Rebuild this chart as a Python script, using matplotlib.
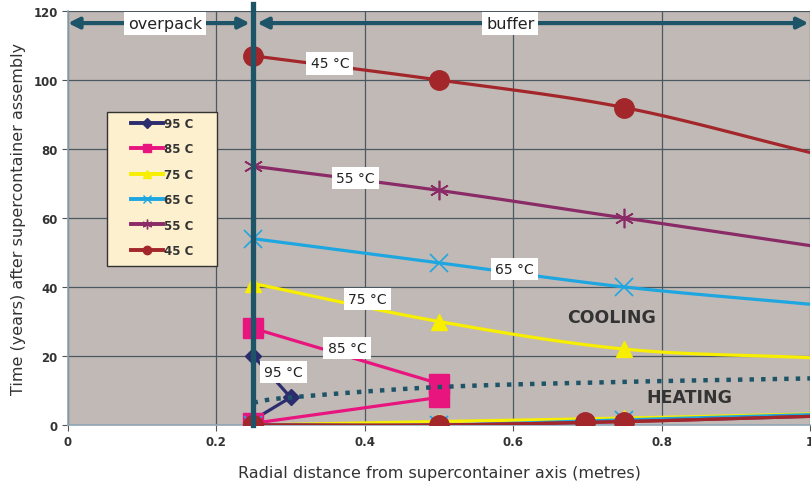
import numpy as np
import matplotlib.pyplot as plt
from matplotlib.patches import Rectangle

# data (x in metres, y in years)
x_cool = [0.25, 0.5, 0.75, 1.0]
t45_cool = [107, 100, 92, 79]
t55_cool = [75, 68, 60, 52]
t65_cool = [54, 47, 40, 35]
t75_cool = [41, 30, 22, 19.5]

x_heat = [0.25, 0.5, 0.75, 1.0]
t45_heat = [0, 0, 1, 2.5]
t55_heat = [0, 0, 1, 2.5]
t65_heat = [0, 0, 1.5, 3]
t75_heat = [0, 1, 2, 3.2]

x85 = [0.25, 0.5, 0.5, 0.25]
t85 = [0.5, 8, 12, 28]
x95 = [0.25, 0.3, 0.25]
t95 = [1.5, 8, 20]

x_extra45 = [0.697]
t_extra45 = [1]

x_bound = [0.25, 0.3, 0.5, 0.75, 1.0]
t_bound = [6.5, 8, 11, 12.5, 13.5]

colors = {'95': '#2b2d6e', '85': '#e8157f', '75': '#f7ee00',
          '65': '#1ea6e0', '55': '#8a2a66', '45': '#a3262a'}
teal = '#1d5468'


def smooth(x, y, n=30):
    # Catmull-Rom rendering of an Excel "smoothed line"
    x = np.asarray(x, float)
    y = np.asarray(y, float)
    px = np.r_[2 * x[0] - x[1], x, 2 * x[-1] - x[-2]]
    py = np.r_[2 * y[0] - y[1], y, 2 * y[-1] - y[-2]]
    xs, ys = [], []
    for i in range(1, len(px) - 2):
        t = np.linspace(0, 1, n)
        for p, out in ((px, xs), (py, ys)):
            p0, p1, p2, p3 = p[i - 1:i + 3]
            out.extend(0.5 * ((2 * p1) + (-p0 + p2) * t +
                              (2 * p0 - 5 * p1 + 4 * p2 - p3) * t ** 2 +
                              (-p0 + 3 * p1 - 3 * p2 + p3) * t ** 3))
    return xs, ys


fig = plt.figure(figsize=(8.12, 4.85), dpi=100)
ax = fig.add_axes([68 / 812, 1 - 426 / 485, 742 / 812, 414 / 485])
ax.set_facecolor('#c1b9b5')
ax.set_xlim(0, 1)
ax.set_ylim(0, 120)
ax.set_xticks([0, 0.2, 0.4, 0.6, 0.8, 1])
ax.set_xticklabels(['0', '0.2', '0.4', '0.6', '0.8', '1'])
ax.set_yticks(range(0, 121, 20))
ax.grid(True, color='#4a5860', lw=0.9)
ax.set_axisbelow(True)
for s in ['top', 'right']:
    ax.spines[s].set_visible(False)
for s in ['left', 'bottom']:
    ax.spines[s].set_color('#8fa6b4')
    ax.spines[s].set_linewidth(1.2)
ax.tick_params(length=4, color='#555', labelsize=8.5, labelcolor='#333')
for lab in ax.get_xticklabels() + ax.get_yticklabels():
    lab.set_fontweight('bold')
ax.set_xlabel('Radial distance from supercontainer axis (metres)',
              fontsize=11.5, color='#333', labelpad=12)
ax.set_ylabel('Time (years) after supercontainer assembly',
              fontsize=11.5, color='#333', labelpad=5)

lw = 2.3
# 95 C
ax.plot(x95, t95, color=colors['95'], lw=lw, marker='D', ms=8, zorder=3)
# 85 C
ax.plot(x85, t85, color=colors['85'], lw=lw, marker='s', ms=14, zorder=3)
# 75 C
for xs_, ys_ in ((x_cool, t75_cool), (x_heat, t75_heat)):
    sx, sy = smooth(xs_, ys_)
    ax.plot(sx, sy, color=colors['75'], lw=lw, zorder=3)
    ax.plot(xs_[:3], ys_[:3], ls='none', marker='^', ms=12, color=colors['75'], zorder=3)
# 65 C
for xs_, ys_ in ((x_cool, t65_cool), (x_heat, t65_heat)):
    sx, sy = smooth(xs_, ys_)
    ax.plot(sx, sy, color=colors['65'], lw=lw, zorder=3)
    ax.plot(xs_[:3], ys_[:3], ls='none', marker='x', ms=13, mew=1.2,
            color=colors['65'], zorder=3)
# 55 C
for xs_, ys_ in ((x_cool, t55_cool), (x_heat, t55_heat)):
    sx, sy = smooth(xs_, ys_)
    ax.plot(sx, sy, color=colors['55'], lw=lw, zorder=3)
    ax.plot(xs_[:3], ys_[:3], ls='none', marker=(6, 2, 0), ms=14, mew=1.2,
            color=colors['55'], zorder=3)
# 45 C
for xs_, ys_ in ((x_cool, t45_cool), (x_heat, t45_heat)):
    sx, sy = smooth(xs_, ys_)
    ax.plot(sx, sy, color=colors['45'], lw=lw, zorder=3)
    ax.plot(xs_[:3], ys_[:3], ls='none', marker='o', ms=14, color=colors['45'], zorder=3)
ax.plot(x_extra45, t_extra45, ls='none', marker='o', ms=14, color=colors['45'], zorder=3)

# heating / cooling boundary
sx, sy = smooth(x_bound, t_bound)
ax.plot(sx, sy, color=teal, lw=3.2, ls=(0, (1, 1.6)), zorder=4)

# overpack / buffer boundary and extents
ax.plot([0.25, 0.25], [0, 122], color=teal, lw=3.8, zorder=6, clip_on=False)
arr = dict(arrowstyle='<|-|>', color=teal, lw=3, mutation_scale=16,
           shrinkA=0, shrinkB=0)
ax.annotate('', xy=(0.0, 116.5), xytext=(0.245, 116.5), arrowprops=arr, zorder=5)
ax.annotate('', xy=(0.255, 116.5), xytext=(0.998, 116.5), arrowprops=arr, zorder=5)
box = dict(boxstyle='square,pad=0.25', fc='white', ec='none')
ax.text(0.131, 116.5, 'overpack', ha='center', va='center', fontsize=11.5,
        color='#222', bbox=box, zorder=7)
ax.text(0.596, 116.5, 'buffer', ha='center', va='center', fontsize=11.5,
        color='#222', bbox=box, zorder=7)

# curve labels
lbox = dict(boxstyle='square,pad=0.3', fc='white', ec='none')
labels = [('45 °C', 0.353, 104.8), ('55 °C', 0.387, 71.6), ('65 °C', 0.602, 45.2),
          ('75 °C', 0.404, 36.5), ('85 °C', 0.376, 22.3), ('95 °C', 0.29, 15.4)]
for txt, lx, ly in labels:
    ax.text(lx, ly, txt, ha='center', va='center', fontsize=10, color='#222',
            bbox=lbox, zorder=8)
ax.text(0.733, 31.3, 'COOLING', ha='center', va='center', fontsize=12.5,
        fontweight='bold', color='#333', zorder=8)
ax.text(0.837, 8.1, 'HEATING', ha='center', va='center', fontsize=12.5,
        fontweight='bold', color='#333', zorder=8)

# legend: cream box drawn separately, entries on top
ax.add_patch(Rectangle(((107 - 68) / 742, (426 - 267) / 414), 110 / 742, 154 / 414,
                       transform=ax.transAxes, fc='#fdf0cf', ec='#333', lw=1,
                       zorder=9))
handles = []
legend_specs = [('95', 'D', 5), ('85', 's', 6), ('75', '^', 6),
                ('65', 'x', 6), ('55', (6, 2, 0), 7), ('45', 'o', 6)]
for key, mk, ms in legend_specs:
    h, = ax.plot([], [], color=colors[key], lw=2.8, marker=mk, ms=ms, mew=1)
    handles.append(h)
leg = ax.legend(handles, [k + ' C' for k, _, _ in legend_specs],
                loc='upper left', bbox_to_anchor=((131 - 68) / 742, (426 - 118) / 414),
                borderaxespad=0, borderpad=0, frameon=False, handlelength=2.7,
                labelspacing=1.05, handletextpad=0.1,
                prop={'weight': 'bold', 'size': 8.5})
leg.set_zorder(10)
for t in leg.get_texts():
    t.set_color('#333')

fig.savefig('out.png', dpi=100)
